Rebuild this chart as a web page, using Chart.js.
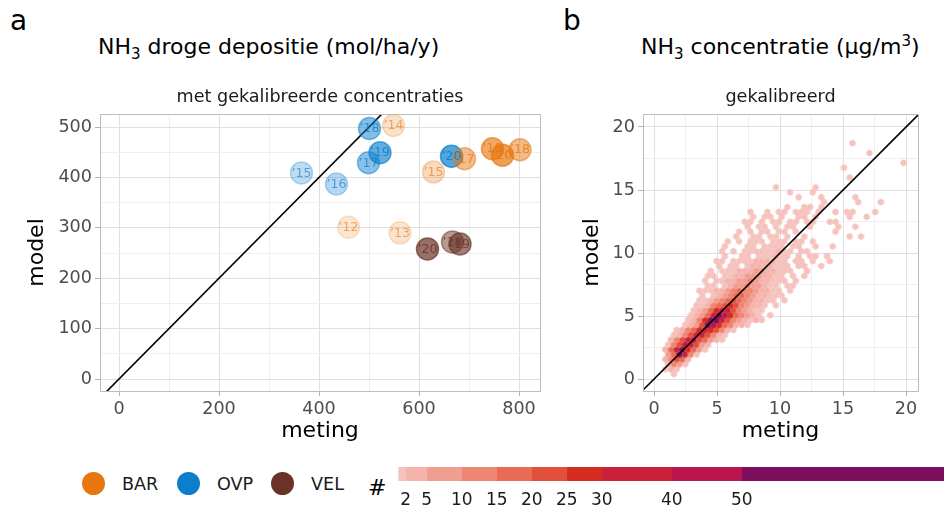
<!DOCTYPE html>
<html>
<head>
<meta charset="utf-8">
<title>NH3 depositie en concentratie</title>
<script src="https://cdn.jsdelivr.net/npm/chart.js@4.4.0/dist/chart.umd.min.js"></script>
<style>
  body { margin: 0; width: 944px; height: 510px; background: #fff; position: relative; overflow: hidden;
         font-family: 'DejaVu Sans', sans-serif; color: #000; }
  canvas { position: absolute; }
  .txt { position: absolute; white-space: nowrap; }
  .tag { font-size: 28px; line-height: 28px; }
  .title { font-size: 22px; line-height: 22px; }
  .title sub, .title sup { font-size: 15px; line-height: 0; }
  .key { position: absolute; width: 23px; height: 23px; border-radius: 50%; }
  .key-label { font-size: 17.6px; line-height: 18px; color: #1a1a1a; }
</style>
</head>
<body>

<div class="txt tag" style="left:10px; top:7px;">a</div>
<div class="txt tag" style="left:563px; top:7px;">b</div>
<div class="txt title" style="left:98px; top:36px;">NH<sub>3</sub> droge depositie (mol/ha/y)</div>
<div class="txt title" style="left:641px; top:36px;">NH<sub>3</sub> concentratie (μg/m<sup>3</sup>)</div>

<canvas id="dep-chart" width="560" height="385" style="left:0; top:60px;"></canvas>
<canvas id="conc-chart" width="384" height="385" style="left:560px; top:60px;"></canvas>
<canvas id="count-chart" width="554" height="56" style="left:390px; top:455px;"></canvas>

<div id="legend"></div>
<div class="txt" style="left:368px; top:476px; font-size:22px; line-height:24px;">#</div>

<script>
'use strict';

// ******* DATA: deposition per station and year ********
let groupNames = ['BAR', 'OVP', 'VEL'];
let groupColors = ['#e8770f', '#0b7fcc', '#6b3327'];

let pointGroup = ['BAR', 'BAR', 'BAR', 'BAR', 'BAR', 'BAR', 'BAR', 'BAR',
  'OVP', 'OVP', 'OVP', 'OVP', 'OVP', 'OVP',
  'VEL', 'VEL', 'VEL'];
let pointYear = [12, 13, 14, 15, 17, 18, 19, 20,
  15, 16, 17, 18, 19, 20,
  18, 19, 20];
let pointMeting = [459, 562, 549, 629, 691, 802, 747, 767,
  365, 435, 499, 501, 522, 665,
  667, 682, 617];
let pointModel = [301, 290, 503, 411, 437, 455, 457, 444,
  409, 387, 429, 497, 449, 442,
  272, 268, 258];

// later years are drawn more opaque
let alphaYears = [12, 13, 14, 15, 16, 17, 18, 19, 20];
let alphaValues = [0.18, 0.2, 0.22, 0.27, 0.3, 0.48, 0.5, 0.64, 0.7];

let depXTicks = [0, 100, 200, 300, 400, 500, 600, 700, 800];
let depYTicks = [0, 50, 100, 150, 200, 250, 300, 350, 400, 450, 500];

// ******* DATA: hexbin counts for the concentrations ********
let hexDx = 0.45;
let hexDy = 0.39;
let hexCodeKeys = '123456789a';
let hexCodeCounts = [1, 3, 7, 12, 17, 22, 27, 35, 45, 60];
let hexRowStart = [0, 3, 2, 2, 2, 2, 2, 2, 3, 3,
  4, 5, 6, 6, 7, 7, 8, 8, 8, 9,
  9, 9, 10, 11, 11, 12, 12, 12, 13, 14,
  15, 16, 16, 17, 17, 23, 30, 25, 24, 21,
  0, 34, 0, 33, 44, 0, 38, 0, 35];
let hexRowCodes = ['', '1', '121', '2431', '24652', '35a841', '258a7531', '14698632', '2468965321', '1246886421',
  '12457876421', '1236a9754221', '1247aa86432121', '12358a9754321.1', '1235788643211',
  '1124567643221.1', '11234565432211.1', '1.1234554322111', '111223454432211.1', '11.1233433211.11',
  '1.1122334322111.1', '11.11223332211.1.1', '1.1112223322111..1', '1.11.12222111.11..1', '11.1111222211.11.1..1',
  '1..11.111211.1.11.1', '1.1.111111211.11', '1...11.1111.11..1..1', '1.1.111.111.11.1', '1..11.11.1..1.......1.1',
  '1.1.11.11.1......1', '1.11.1.11..1....1..1', '11.1.11.11.11..11', '1.11.1..11.1.....1..1', '1..1.11.111.1..1.11...1',
  '1..11.1', '1.....1...1', '1...1.....1', '1...1', '1......1',
  '', '1', '', '1', '1', '', '1', '', '1'];

let concTicks = [0, 2.5, 5, 7.5, 10, 12.5, 15, 17.5, 20];

// ******* DATA: colour steps for the counts ********
let binBreaks = [1, 2, 5, 10, 15, 20, 25, 30, 40, 50, 80];
let binColors = ['#f5c2bd', '#f4b4ad', '#f09e91', '#ed8673', '#e96b56',
  '#e2503b', '#d62c1f', '#c92139', '#bb1550', '#7c0e5c'];
let countTicks = [2, 5, 10, 15, 20, 25, 30, 40, 50];

// ******* SHARED STYLE ********
const FONT = 'DejaVu Sans';
Chart.defaults.font.family = FONT;

// ****** HELPER FUNCTIONS ******
function rgba(hex, a){
  let n = parseInt(hex.slice(1), 16);
  return `rgba(${(n >> 16) & 255},${(n >> 8) & 255},${n & 255},${a})`;
}

function yearAlpha(yr){
  return alphaValues[alphaYears.indexOf(yr)];
}

function binColor(n){
  for (let i = binColors.length - 1; i >= 0; i--) {
    if (n >= binBreaks[i]) return binColors[i];
  }
  return binColors[0];
}

function isMajor(v, step){
  return Math.abs(v / step - Math.round(v / step)) < 1e-6;
}

// axis with major and minor grid lines, labels on major ones only
function panelAxis(min, max, ticks, step, title, titlePad, isX, fitSize){
  return {
    type: 'linear',
    min: min,
    max: max,
    afterBuildTicks: s => { s.ticks = ticks.map(v => ({ value: v })); },
    afterFit: s => { if (isX) { s.height = fitSize; } else { s.width = fitSize; } },
    border: { display: false },
    grid: {
      color: c => isMajor(c.tick.value, step) ? '#e0e0e0' : '#efefef',
      lineWidth: 1,
      tickLength: 5,
      tickColor: c => isMajor(c.tick.value, step) ? '#b3b3b3' : 'rgba(0,0,0,0)'
    },
    ticks: {
      padding: 3,
      color: '#4d4d4d',
      font: { size: 17.6 },
      autoSkip: false,
      maxRotation: 0,
      callback: v => isMajor(v, step) ? String(v) : ''
    },
    title: {
      display: true,
      text: title,
      color: '#000',
      font: { size: 22 },
      padding: titlePad
    }
  };
}

function stripTitle(text){
  return {
    display: true,
    text: text,
    fullSize: false,
    color: '#1a1a1a',
    font: { size: 17.6, weight: 'normal' },
    padding: { top: 26.5, bottom: 6.4 }
  };
}

// grey frame round the plotting area
const panelBorder = {
  id: 'panelBorder',
  afterDraw(chart){
    let a = chart.chartArea;
    let g = chart.ctx;
    g.save();
    g.strokeStyle = '#bdbdbd';
    g.lineWidth = 1;
    g.strokeRect(Math.round(a.left) + 0.5, Math.round(a.top) + 0.5,
      Math.round(a.right - a.left), Math.round(a.bottom - a.top));
    g.restore();
  }
};

// year labels ('12, '13 ...) on top of the circles
const yearLabels = {
  id: 'yearLabels',
  afterDatasetsDraw(chart){
    let g = chart.ctx;
    g.save();
    g.font = `12.5px '${FONT}'`;
    g.textAlign = 'center';
    g.textBaseline = 'middle';
    chart.data.datasets.forEach((ds, di) => {
      if (!ds.groupColor) return;
      chart.getDatasetMeta(di).data.forEach((pt, i) => {
        let yr = ds.data[i].yr;
        g.fillStyle = rgba(ds.groupColor, 0.5 + yearAlpha(yr) * 0.5);
        g.fillText('\u2019' + yr, pt.x, pt.y + 0.5);
      });
    });
    g.restore();
  }
};

// hexagon images used as point style, sized from the x scale
const hexCache = {};
function hexImage(chart, color){
  let xs = chart.scales.x;
  let w = Math.abs(xs.getPixelForValue(hexDx) - xs.getPixelForValue(0)) + 0.5;
  let key = color + w.toFixed(2);
  if (hexCache[key]) return hexCache[key];
  let R = w / Math.sqrt(3);
  let c = document.createElement('canvas');
  c.width = Math.ceil(w) + 2;
  c.height = Math.ceil(2 * R) + 2;
  let g = c.getContext('2d');
  g.beginPath();
  for (let k = 0; k < 6; k++) {
    let ang = -Math.PI / 2 + k * Math.PI / 3;
    let px = c.width / 2 + R * Math.cos(ang);
    let py = c.height / 2 + R * Math.sin(ang);
    if (k === 0) g.moveTo(px, py); else g.lineTo(px, py);
  }
  g.closePath();
  g.fillStyle = color;
  g.fill();
  hexCache[key] = c;
  return c;
}

// ****** LEFT PANEL: deposition ******
let depDatasets = groupNames.map((name, gi) => {
  let pts = [];
  let fills = [];
  for (let i = 0; i < pointGroup.length; i++) {
    if (pointGroup[i] !== name) continue;
    pts.push({ x: pointMeting[i], y: pointModel[i], yr: pointYear[i] });
    fills.push(rgba(groupColors[gi], yearAlpha(pointYear[i])));
  }
  return {
    label: name,
    groupColor: groupColors[gi],
    data: pts,
    backgroundColor: fills,
    borderColor: fills,
    borderWidth: 1.5,
    pointRadius: 11
  };
});

depDatasets.push({
  type: 'line',
  data: [{ x: -100, y: -100 }, { x: 900, y: 900 }],
  borderColor: '#000',
  borderWidth: 1.6,
  pointRadius: 0
});

new Chart(document.getElementById('dep-chart'), {
  type: 'scatter',
  data: { datasets: depDatasets },
  options: {
    responsive: false,
    animation: false,
    layout: { padding: { right: 20 } },
    plugins: {
      legend: { display: false },
      tooltip: { enabled: false },
      title: stripTitle('met gekalibreerde concentraties')
    },
    scales: {
      x: panelAxis(-38, 842, depXTicks, 200, 'meting', { top: 0, bottom: 1 }, true, 54),
      y: panelAxis(-23.8, 525.8, depYTicks, 100, 'model', { top: 24, bottom: 0 }, false, 100)
    }
  },
  plugins: [panelBorder, yearLabels]
});

// ****** RIGHT PANEL: concentration hexbin ******
let hexCells = [];
hexRowCodes.forEach((codes, r) => {
  for (let k = 0; k < codes.length; k++) {
    if (codes[k] === '.') continue;
    let c = hexRowStart[r] + k;
    hexCells.push({
      x: c * hexDx + (r % 2 ? hexDx / 2 : 0),
      y: r * hexDy,
      n: hexCodeCounts[hexCodeKeys.indexOf(codes[k])]
    });
  }
});

new Chart(document.getElementById('conc-chart'), {
  type: 'scatter',
  data: {
    datasets: [
      {
        type: 'line',
        data: [{ x: -5, y: -5 }, { x: 25, y: 25 }],
        borderColor: '#000',
        borderWidth: 1.6,
        pointRadius: 0
      },
      {
        label: '#',
        data: hexCells,
        pointRadius: 3,
        pointStyle: ctx => hexImage(ctx.chart, binColor(ctx.raw ? ctx.raw.n : 1))
      }
    ]
  },
  options: {
    responsive: false,
    animation: false,
    layout: { padding: { right: 26 } },
    plugins: {
      legend: { display: false },
      tooltip: { enabled: false },
      title: stripTitle('gekalibreerd')
    },
    scales: {
      x: panelAxis(-0.873, 20.95, concTicks, 5, 'meting', { top: 0, bottom: 1 }, true, 54),
      y: panelAxis(-0.95, 21.03, concTicks, 5, 'model', { top: 19, bottom: 0 }, false, 83)
    }
  },
  plugins: [panelBorder]
});

// ****** COUNT SCALE (stepped colour bar) ******
new Chart(document.getElementById('count-chart'), {
  type: 'bar',
  data: {
    labels: ['#'],
    datasets: binColors.map((col, i) => ({
      data: [[binBreaks[i], binBreaks[i + 1]]],
      backgroundColor: col,
      borderWidth: 0,
      barPercentage: 1,
      categoryPercentage: 1,
      grouped: false
    }))
  },
  options: {
    indexAxis: 'y',
    responsive: false,
    animation: false,
    layout: { padding: { top: 12 } },
    plugins: { legend: { display: false }, tooltip: { enabled: false } },
    scales: {
      y: { display: false },
      x: {
        type: 'linear',
        min: -0.25,
        max: 78.9,
        afterBuildTicks: s => { s.ticks = countTicks.map(v => ({ value: v })); },
        afterFit: s => { s.height = 30; },
        border: { display: false },
        grid: { display: false, drawTicks: false },
        ticks: { padding: 9, color: '#1a1a1a', font: { size: 17 }, autoSkip: false, maxRotation: 0 }
      }
    }
  }
});

// ****** GROUP LEGEND ******
let legendBox = document.getElementById('legend');
let keyX = [82, 177, 271];
let labelX = [122, 217, 311];
groupNames.forEach((name, i) => {
  let dot = document.createElement('div');
  dot.className = 'key';
  dot.style.left = keyX[i] + 'px';
  dot.style.top = '472px';
  dot.style.background = groupColors[i];
  legendBox.appendChild(dot);

  let lab = document.createElement('div');
  lab.className = 'txt key-label';
  lab.style.left = labelX[i] + 'px';
  lab.style.top = '475px';
  lab.textContent = name;
  legendBox.appendChild(lab);
});
</script>
</body>
</html>
